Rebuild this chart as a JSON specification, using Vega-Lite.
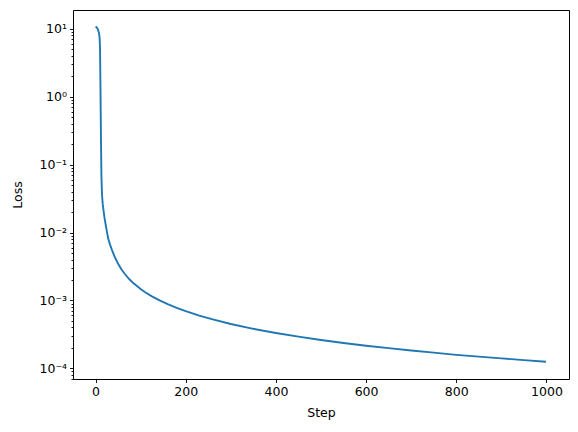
{
  "$schema": "https://vega.github.io/schema/vega-lite/v6.json",
  "width": 496,
  "height": 369,
  "autosize": "none",
  "padding": {"left": 73, "top": 10, "right": 9, "bottom": 53},
  "background": "white",
  "config": {
    "view": {"stroke": "black", "strokeWidth": 1},
    "axis": {
      "domain": false,
      "grid": false,
      "labelFont": "DejaVu Sans",
      "labelFontSize": 12.5,
      "titleFont": "DejaVu Sans",
      "titleFontSize": 12.5,
      "titleFontWeight": "normal",
      "labelColor": "black",
      "titleColor": "black",
      "tickColor": "black",
      "tickWidth": 0.9
    }
  },
  "data": {
    "values": [
      {"step": 0, "loss": 10.8},
      {"step": 1, "loss": 10.7},
      {"step": 2, "loss": 10.6},
      {"step": 3, "loss": 10.4},
      {"step": 4, "loss": 10.2},
      {"step": 5, "loss": 9.9},
      {"step": 6, "loss": 9.5},
      {"step": 7, "loss": 9.0},
      {"step": 8, "loss": 8.4},
      {"step": 9, "loss": 7.4},
      {"step": 10, "loss": 5.0},
      {"step": 11, "loss": 1.2},
      {"step": 12, "loss": 0.25},
      {"step": 13, "loss": 0.07},
      {"step": 14, "loss": 0.042},
      {"step": 15, "loss": 0.031},
      {"step": 16, "loss": 0.026},
      {"step": 18, "loss": 0.0205},
      {"step": 20, "loss": 0.0163},
      {"step": 22, "loss": 0.0136},
      {"step": 25, "loss": 0.0105},
      {"step": 28, "loss": 0.0082},
      {"step": 32, "loss": 0.0067},
      {"step": 37, "loss": 0.0054},
      {"step": 43, "loss": 0.0043},
      {"step": 50, "loss": 0.00348},
      {"step": 57, "loss": 0.0029},
      {"step": 65, "loss": 0.00245},
      {"step": 75, "loss": 0.00205},
      {"step": 85, "loss": 0.00177},
      {"step": 100, "loss": 0.00147},
      {"step": 110, "loss": 0.00132},
      {"step": 125, "loss": 0.00115},
      {"step": 142, "loss": 0.001},
      {"step": 160, "loss": 0.00088},
      {"step": 180, "loss": 0.00078},
      {"step": 200, "loss": 0.000695},
      {"step": 230, "loss": 0.000597},
      {"step": 260, "loss": 0.000525},
      {"step": 300, "loss": 0.00045},
      {"step": 350, "loss": 0.000382},
      {"step": 400, "loss": 0.000332},
      {"step": 450, "loss": 0.000293},
      {"step": 500, "loss": 0.000261},
      {"step": 550, "loss": 0.000236},
      {"step": 600, "loss": 0.000215},
      {"step": 650, "loss": 0.000198},
      {"step": 700, "loss": 0.000183},
      {"step": 750, "loss": 0.00017},
      {"step": 800, "loss": 0.000158},
      {"step": 850, "loss": 0.0001486},
      {"step": 900, "loss": 0.00014},
      {"step": 950, "loss": 0.000132},
      {"step": 999, "loss": 0.000125}
    ]
  },
  "mark": {"type": "line", "color": "#1f77b4", "strokeWidth": 1.9},
  "encoding": {
    "x": {
      "field": "step",
      "type": "quantitative",
      "scale": {"domain": [-50, 1050], "nice": false, "zero": false},
      "axis": {
        "title": "Step",
        "values": [0, 200, 400, 600, 800, 1000],
        "format": "d",
        "tickSize": 3.5,
        "labelPadding": 3,
        "titlePadding": 8,
        "labelFlush": false
      }
    },
    "y": {
      "field": "loss",
      "type": "quantitative",
      "scale": {"type": "log", "domain": [0.0000696, 19.0], "nice": false},
      "axis": {
        "title": "Loss",
        "titlePadding": 14,
        "labelPadding": 3,
        "labelOverlap": false,
        "labelFlush": false,
        "values": [0.00007, 0.00008, 0.00009, 0.0001, 0.0002, 0.0003, 0.0004, 0.0005, 0.0006, 0.0007, 0.0008, 0.0009, 0.001, 0.002, 0.003, 0.004, 0.005, 0.006, 0.007, 0.008, 0.009, 0.01, 0.02, 0.03, 0.04, 0.05, 0.06, 0.07, 0.08, 0.09, 0.1, 0.2, 0.3, 0.4, 0.5, 0.6, 0.7, 0.8, 0.9, 1, 2, 3, 4, 5, 6, 7, 8, 9, 10],
        "tickSize": {"condition": {"test": "abs(log(datum.value)/LN10 - round(log(datum.value)/LN10)) < 0.01", "value": 3.5}, "value": 2},
        "labelExpr": "abs(log(datum.value)/LN10 - round(log(datum.value)/LN10)) >= 0.01 ? '' : datum.value > 5 ? '10¹' : datum.value > 0.5 ? '10⁰' : datum.value > 0.05 ? '10⁻¹' : datum.value > 0.005 ? '10⁻²' : datum.value > 0.0005 ? '10⁻³' : '10⁻⁴'"
      }
    }
  }
}
